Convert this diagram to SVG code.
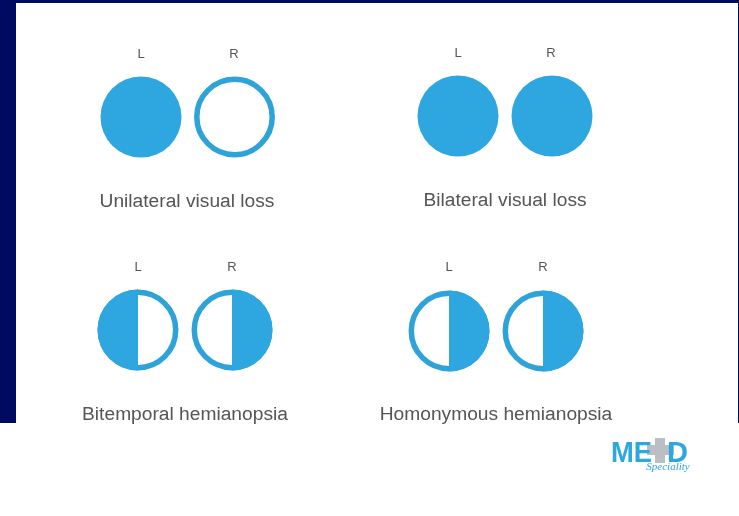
<svg xmlns="http://www.w3.org/2000/svg" width="739" height="516" viewBox="0 0 739 516">
<style>
text{font-family:"Liberation Sans",Arial,sans-serif;fill:#555558;text-anchor:middle}
.eye{font-size:13px}
.cap{font-size:19.2px}
.fill{fill:#2ea6df}
.ring{fill:#fff;stroke:#2ea3da;stroke-width:5.5}
.logoText{font-size:30px;font-weight:bold;fill:#2ea6df;text-anchor:start}
</style>
<defs>
<filter id="soft" x="-10%" y="-10%" width="120%" height="120%"><feGaussianBlur stdDeviation="0.45"/></filter>
<filter id="softer" x="-10%" y="-10%" width="120%" height="120%"><feGaussianBlur stdDeviation="0.7"/></filter>
<clipPath id="leftHalf"><rect x="-50" y="-50" width="50" height="100"/></clipPath>
<clipPath id="rightHalf"><rect x="0" y="-50" width="50" height="100"/></clipPath>
<g id="full"><circle r="40.5" class="fill"/></g>
<g id="empty"><circle r="37.7" class="ring"/></g>
<g id="lefthalf"><circle r="37.7" class="ring"/><circle r="40.5" class="fill" clip-path="url(#leftHalf)"/></g>
<g id="righthalf"><circle r="37.7" class="ring"/><circle r="40.5" class="fill" clip-path="url(#rightHalf)"/></g>
</defs>
<rect width="739" height="516" fill="#fff"/>
<g id="frame" fill="#000a60">
<rect width="739" height="3"/>
<rect y="0" width="16" height="423"/>
<rect x="738" width="1" height="423"/>
</g>
<g id="unilateral" filter="url(#soft)">
<text class="eye" x="141" y="58">L</text><text class="eye" x="234" y="58">R</text>
<use href="#full" x="141" y="117"/><use href="#empty" x="234.500" y="117"/>
<text class="cap" x="187" y="206.500">Unilateral visual loss</text>
</g>
<g id="bilateral" filter="url(#soft)">
<text class="eye" x="458" y="57">L</text><text class="eye" x="551" y="57">R</text>
<use href="#full" x="458" y="116"/><use href="#full" x="552" y="116"/>
<text class="cap" x="505" y="205.500">Bilateral visual loss</text>
</g>
<g id="bitemporal" filter="url(#soft)">
<text class="eye" x="138" y="271">L</text><text class="eye" x="232" y="271">R</text>
<use href="#lefthalf" x="138" y="330"/><use href="#righthalf" x="232" y="330"/>
<text class="cap" x="185" y="420">Bitemporal hemianopsia</text>
</g>
<g id="homonymous" filter="url(#soft)">
<text class="eye" x="449" y="271">L</text><text class="eye" x="543" y="271">R</text>
<use href="#righthalf" x="449" y="331"/><use href="#righthalf" x="543" y="331"/>
<text class="cap" x="496" y="420">Homonymous hemianopsia</text>
</g>
<g id="logo" filter="url(#softer)">
<path d="M655 438h10v7h9v10h-9v8h-10v-8h-8v-10h8z" fill="#b9bfc4"/>
<text class="logoText" x="611" y="462" textLength="41" lengthAdjust="spacingAndGlyphs">ME</text>
<text class="logoText" x="667" y="462" textLength="21" lengthAdjust="spacingAndGlyphs">D</text>
<text x="668" y="470" style="font-family:'Liberation Serif',serif;font-size:11px;font-style:italic;fill:#2ea6df">Speciality</text>
</g>
</svg>
